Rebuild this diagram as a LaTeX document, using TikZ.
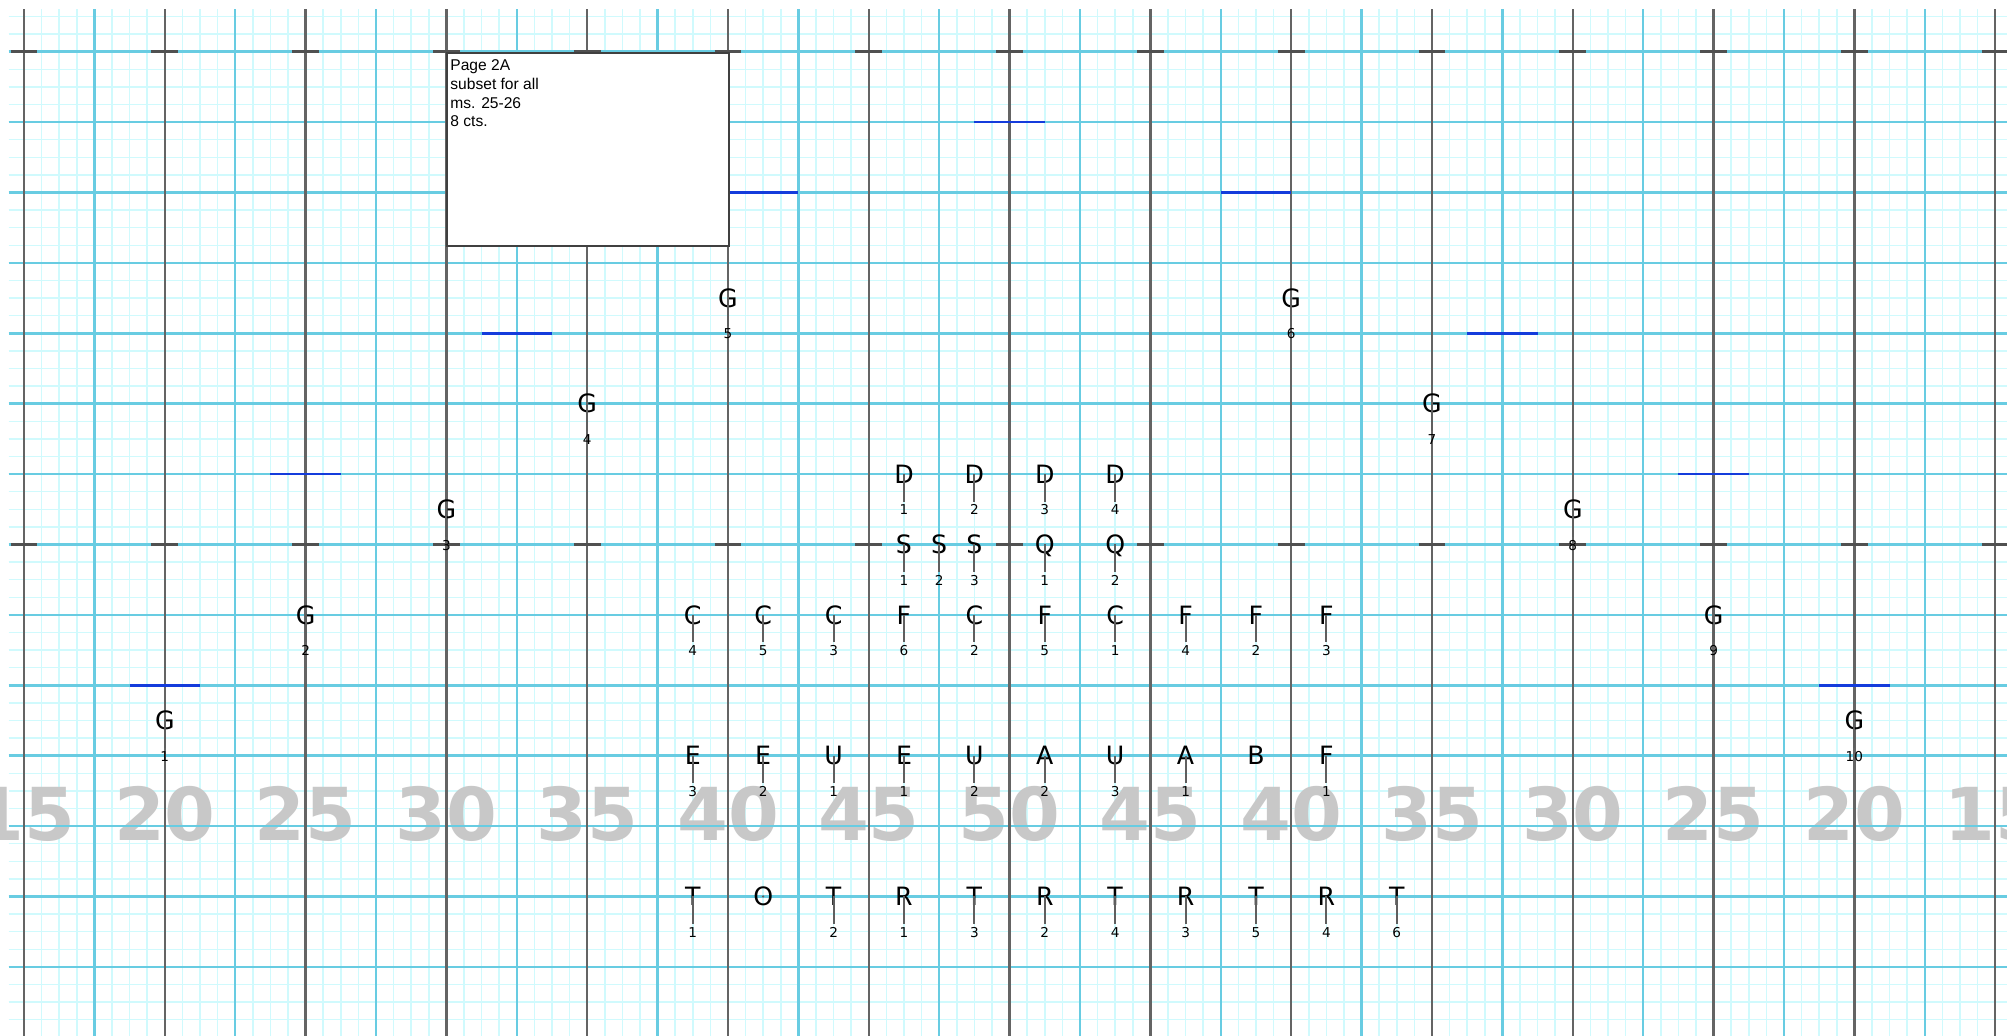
\documentclass[tikz,border=0pt]{standalone}
\usepackage{fontspec}
\setmainfont{Liberation Sans}
\newfontfamily\notefont{DejaVu Sans}
\usetikzlibrary{positioning}
\definecolor{minorcyan}{RGB}{208,250,253}
\definecolor{majorcyan}{RGB}{104,204,226}
\definecolor{bargray}{RGB}{100,100,100}
\definecolor{tickgray}{RGB}{80,80,80}
\definecolor{ledgerblue}{RGB}{20,60,220}
\definecolor{scalegray}{RGB}{200,200,200}
\definecolor{stemgray}{RGB}{95,95,95}

\begin{document}
\begin{tikzpicture}[
  x=1cm, y=-1cm,
  minorline/.style={minorcyan, line width=0.6pt},
  majorline/.style={majorcyan, line width=1pt},
  barline/.style={bargray, line width=0.9pt},
  tickmark/.style={tickgray, line width=1.2pt},
  ledger/.style={ledgerblue, line width=1pt},
  bignum/.style={scalegray, font=\notefont\bfseries\fontsize{29.5}{30}\selectfont,
                 inner sep=0pt, text depth=0pt},
  noteletter/.style={font=\notefont\fontsize{10.2}{10}\selectfont, inner sep=0pt,
                     text height=7.4pt, text depth=0pt},
  notenum/.style={font=\notefont\fontsize{5.5}{5.5}\selectfont, inner sep=0pt,
                  text height=4pt, text depth=0pt},
  notestem/.style={stemgray, line width=0.75pt, shorten >=1.2pt},
  pagebox/.style={draw=black!75, fill=white, line width=0.8pt, minimum width=4cm,
                  minimum height=2.74cm, inner sep=0pt},
  boxtext/.style={font=\fontsize{6.3}{7.55}\selectfont, align=left, inner sep=0pt}
]
  \useasboundingbox (-0.341,-0.734) rectangle (28.168,13.982);
  \fill[white] (-0.341,-0.734) rectangle (28.168,13.982);

  % paper
  \begin{scope}
    \clip (-0.22,-0.6) rectangle (28.168,13.982);
    \foreach \i in {0,...,112} \draw[minorline] ({0.25*\i},-0.6) -- ({0.25*\i},14);
    \foreach \j in {0,...,57} \draw[minorline] (-0.22,{-0.5+0.25*\j}) -- (28.2,{-0.5+0.25*\j});
  \end{scope}
  \foreach \x/\v [count=\i] in {0/15,2/20,4/25,6/30,8/35,10/40,12/45,14/50,
                                16/45,18/40,20/35,22/30,24/25,26/20,28/15}
    \node[bignum] (scale\i) at (\x,10.82) {\v};
  \foreach \x in {1,3,...,27} \draw[majorline] (\x,-0.6) -- (\x,13.982);
  \foreach \y in {0,...,13} \draw[majorline] (-0.22,\y) -- (28.168,\y);
  \foreach \x in {0,2,...,28} \draw[barline] (\x,-0.6) -- (\x,13.982);
  \foreach \x in {0,2,...,28} \foreach \y in {0,7}
    \draw[tickmark] ({\x-0.19},\y) -- ({\x+0.19},\y);
  \foreach \a/\b/\y in {1.5/2.5/9, 3.5/4.5/6, 6.5/7.5/4, 10/11/2, 13.5/14.5/1,
                        17/18/2, 20.5/21.5/4, 23.5/24.5/6, 25.5/26.5/9}
    \draw[ledger] (\a,\y) -- (\b,\y);

  \node[pagebox, anchor=north west] (page) at (6,0) {};
  \node[boxtext, below right=0.11cm and 0.05cm of page.north west] (pagetext)
    {Page 2A\\subset for all\\ms. 25-26\\8 cts.};

  % notes
  \foreach \x/\y/\l/\n [count=\i] in {
      2/9.5/G/1, 4/8/G/2, 6/6.5/G/3, 8/5/G/4, 10/3.5/G/5,
      18/3.5/G/6, 20/5/G/7, 22/6.5/G/8, 24/8/G/9, 26/9.5/G/10,
      12.5/6/D/1, 13.5/6/D/2, 14.5/6/D/3, 15.5/6/D/4,
      12.5/7/S/1, 13/7/S/2, 13.5/7/S/3, 14.5/7/Q/1, 15.5/7/Q/2,
      9.5/8/C/4, 10.5/8/C/5, 11.5/8/C/3, 12.5/8/F/6, 13.5/8/C/2,
      14.5/8/F/5, 15.5/8/C/1, 16.5/8/F/4, 17.5/8/F/2, 18.5/8/F/3,
      9.5/10/E/3, 10.5/10/E/2, 11.5/10/U/1, 12.5/10/E/1, 13.5/10/U/2,
      14.5/10/A/2, 15.5/10/U/3, 16.5/10/A/1, 18.5/10/F/1,
      9.5/12/T/1, 11.5/12/T/2, 12.5/12/R/1, 13.5/12/T/3, 14.5/12/R/2,
      15.5/12/T/4, 16.5/12/R/3, 17.5/12/T/5, 18.5/12/R/4, 19.5/12/T/6}
  {
    \node[noteletter] (note\i) at (\x,\y) {\l};
    \node[notenum] (num\i) at (\x,{\y+0.51}) {\n};
    \draw[notestem] (note\i.center) -- (num\i.north);
  }
  \node[noteletter] (noteB) at (17.5,10) {B};
  \node[noteletter] (noteO) at (10.5,12) {O};
  \fill[stemgray] (noteO.center) circle (0.5pt);
\end{tikzpicture}
\end{document}
